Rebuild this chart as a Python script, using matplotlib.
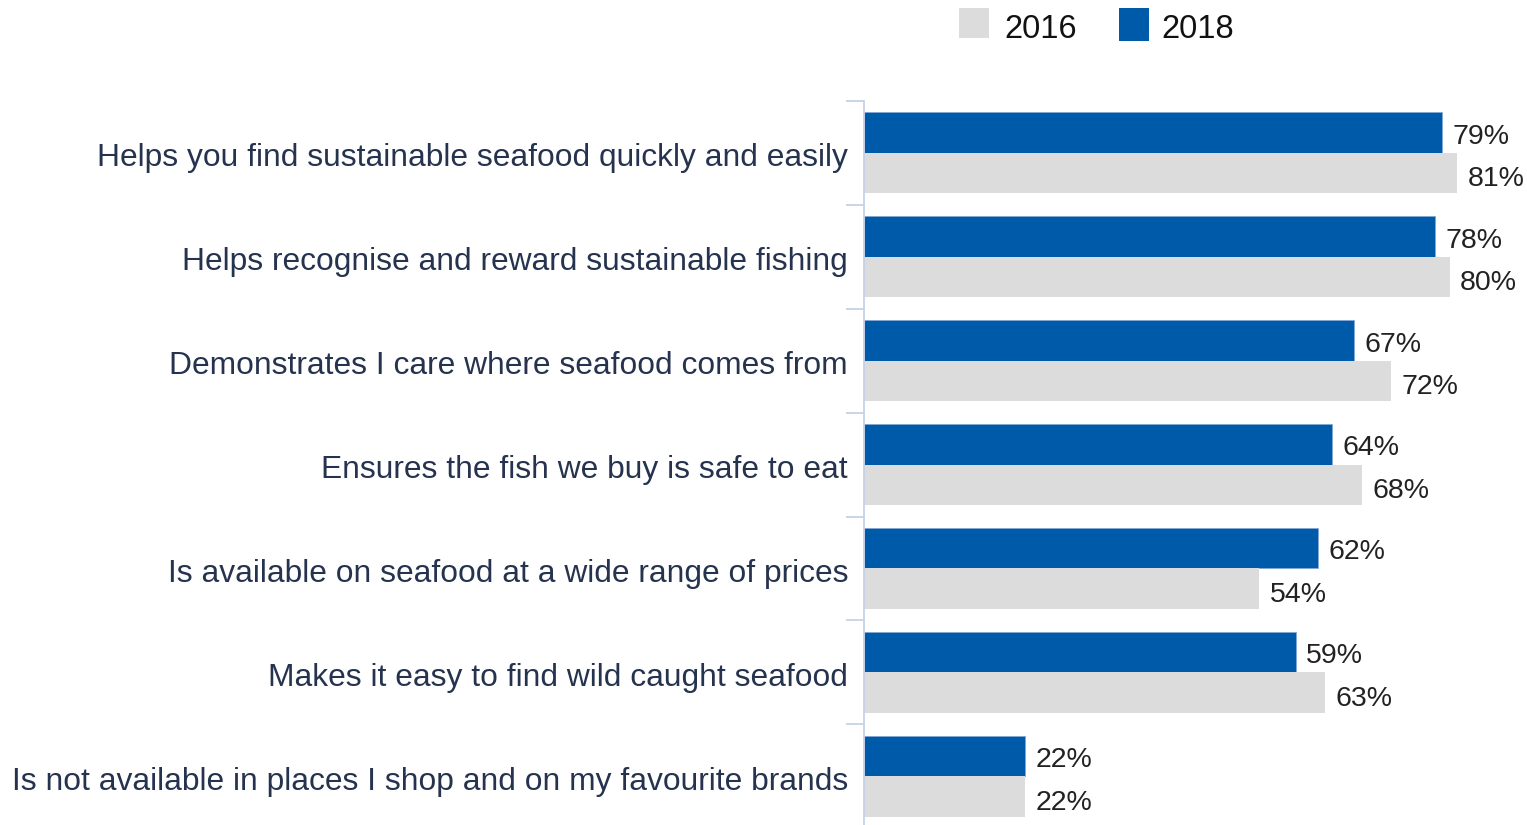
import matplotlib
matplotlib.use("Agg")
import matplotlib.pyplot as plt
from matplotlib.patches import Rectangle
import matplotlib.transforms as mtransforms
import numpy as np

plt.rcParams['font.family'] = ['Liberation Sans', 'DejaVu Sans']

categories = [
    "Helps you find sustainable seafood quickly and easily",
    "Helps recognise and reward sustainable fishing",
    "Demonstrates I care where seafood comes from",
    "Ensures the fish we buy is safe to eat",
    "Is available on seafood at a wide range of prices",
    "Makes it easy to find wild caught seafood",
    "Is not available in places I shop and on my favourite brands",
]
values_2018 = [79, 78, 67, 64, 62, 59, 22]
values_2016 = [81, 80, 72, 68, 54, 63, 22]
series_labels = ["2016", "2018"]

color_2018 = "#005aaa"
color_2016 = "#dcdcdc"
label_color = "#26334f"
spine_color = "#c5d3e6"

fig = plt.figure(figsize=(15.27, 8.25), dpi=100)
ax = fig.add_axes([0.5658, -0.004, 0.4342, 0.8818])

y = np.arange(len(categories))
h = 0.39
ax.barh(y - h / 2, values_2018, height=h, color=color_2018,
        edgecolor="#7fa8d6", linewidth=0.6)
ax.barh(y + h / 2, values_2016, height=h, color=color_2016, linewidth=0)

for yi, v in zip(y, values_2018):
    ax.annotate(f"{v}%", (v, yi - h / 2), xytext=(7.5, -3.0), textcoords="offset points",
                va="center", ha="left", fontsize=20.5, color="#222222")
for yi, v in zip(y, values_2016):
    ax.annotate(f"{v}%", (v, yi + h / 2), xytext=(7.5, -4.5), textcoords="offset points",
                va="center", ha="left", fontsize=20.5, color="#222222")

ax.set_xlim(0, (1527 - 864) / 7.32)
ax.set_ylim(len(categories) - 0.5, -0.5)

ax.set_yticks(y)
ax.set_yticklabels(categories, fontsize=22.9, color=label_color)
ax.tick_params(axis="y", which="major", length=0, pad=11.5)
shift = mtransforms.ScaledTranslation(0, -2 / 100, fig.dpi_scale_trans)
for lbl in ax.get_yticklabels():
    lbl.set_transform(lbl.get_transform() + shift)
ax.set_yticks(np.arange(-0.5, len(categories) - 0.5, 1.0), minor=True)
ax.tick_params(axis="y", which="minor", length=13, width=1.3, color=spine_color)
ax.set_xticks([])

for s in ["top", "right", "bottom"]:
    ax.spines[s].set_visible(False)
ax.spines["left"].set_color(spine_color)
ax.spines["left"].set_linewidth(1.3)

# legend
for x0, hgt, tx, col, lab in [(959, 30, 1004, color_2016, series_labels[0]),
                              (1119, 33, 1161, color_2018, series_labels[1])]:
    fig.patches.append(Rectangle((x0 / 1527, 1 - (8 + hgt) / 825), 30 / 1527, hgt / 825,
                                 transform=fig.transFigure, facecolor=col, edgecolor="none"))
    fig.text(tx / 1527, 1 - 29 / 825, lab, fontsize=23.5, color="#111111",
             va="center", ha="left")

fig.savefig("out.png", dpi=100)
